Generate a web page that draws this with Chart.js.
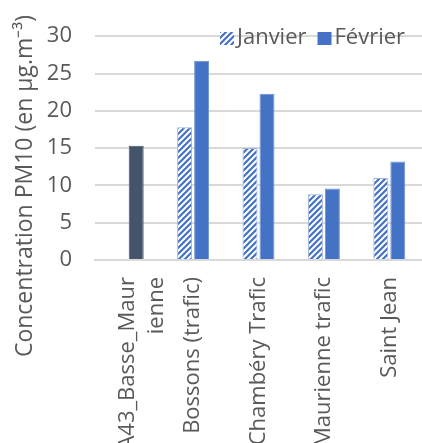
<!DOCTYPE html>
<html>
<head>
<meta charset="utf-8">
<script src="https://cdn.jsdelivr.net/npm/chart.js@4"></script>
<style>
  html, body { margin: 0; padding: 0; background: #fff; overflow: hidden; }
  #wrap { width: 422px; height: 443px; }
</style>
</head>
<body>
<div id="wrap"><canvas id="pmChart"></canvas></div>
<script>
const stations = [['A43_Basse_Maur', 'ienne'], 'Bossons (trafic)', 'Chambéry Trafic', 'Maurienne trafic', 'Saint Jean'];
const janvier = [null, 17.8, 15.0, 8.8, 11.0];
const fevrier = [15.3, 26.7, 22.3, 9.6, 13.2];
const yTicks = [0, 5, 10, 15, 20, 25, 30];
const seriesNames = ['Janvier', 'Février'];
const yTitle = 'Concentration PM10 (en µg.m⁻³)';

const blue = '#4472C4';
const slate = '#44546A';
const textGrey = '#595959';
const font = "'Open Sans', 'Liberation Sans', sans-serif";

function makeHatch() {
    const c = document.createElement('canvas');
    c.width = 6;
    c.height = 6;
    const g = c.getContext('2d');
    g.fillStyle = '#fff';
    g.fillRect(0, 0, 6, 6);
    g.strokeStyle = blue;
    g.lineWidth = 2.2;
    g.beginPath();
    g.moveTo(-1, 7); g.lineTo(7, -1);
    g.moveTo(-4, 4); g.lineTo(4, -4);
    g.moveTo(2, 10); g.lineTo(10, 2);
    g.stroke();
    return g.createPattern(c, 'repeat');
}
const hatch = makeHatch();

// y title and legend drawn by hand, the way the original sits
const extras = {
    id: 'extras',
    afterDraw(chart) {
        const ctx = chart.ctx;
        ctx.save();
        ctx.fillStyle = textGrey;
        ctx.textBaseline = 'middle';

        ctx.save();
        ctx.font = '23px ' + font;
        ctx.translate(25, 186);
        ctx.rotate(-Math.PI / 2);
        ctx.textAlign = 'center';
        ctx.fillText(yTitle, 0, 0);
        ctx.restore();

        // legend
        ctx.font = '22px ' + font;
        let x = 220;
        const y = 38;
        const fills = [hatch, blue];
        seriesNames.forEach((name, i) => {
            ctx.fillStyle = fills[i];
            ctx.fillRect(x, y - 6, 14, 13);
            ctx.fillStyle = textGrey;
            ctx.textAlign = 'left';
            ctx.fillText(name, x + 17, y);
            x += 17 + ctx.measureText(name).width + 11;
        });
        ctx.restore();
    }
};

new Chart(document.getElementById('pmChart'), {
    type: 'bar',
    data: {
        labels: stations,
        datasets: [
            {
                label: seriesNames[0],
                data: janvier,
                backgroundColor: hatch,
                borderColor: '#9db4e0',
                borderWidth: 1,
                categoryPercentage: 0.52,
                barPercentage: 0.88
            },
            {
                label: seriesNames[1],
                data: fevrier,
                backgroundColor: fevrier.map((v, i) => i === 0 ? slate : blue),
                borderColor: fevrier.map((v, i) => i === 0 ? slate : '#6f93d4'),
                borderWidth: 1,
                categoryPercentage: 0.52,
                barPercentage: 0.88
            }
        ]
    },
    plugins: [extras],
    options: {
        responsive: true,
        maintainAspectRatio: false,
        animation: false,
        layout: { padding: { top: 19, right: -2, left: 0, bottom: 0 } },
        plugins: {
            legend: { display: false },
            tooltip: { enabled: false }
        },
        scales: {
            x: {
                afterFit: (axis) => {
                    axis.height = 183;
                    axis.paddingLeft = 0;
                    axis.paddingRight = 0;
                },
                grid: { display: false, drawTicks: false },
                border: { color: '#d9d9d9', width: 2 },
                ticks: {
                    font: { family: font, size: 22, lineHeight: 1.3 },
                    color: textGrey,
                    minRotation: 90,
                    maxRotation: 90,
                    autoSkip: false,
                    padding: 17
                }
            },
            y: {
                min: 0,
                max: 30,
                afterFit: (axis) => { axis.width = 95; },
                afterBuildTicks: (axis) => { axis.ticks = yTicks.map(v => ({ value: v })); },
                grid: { color: '#d9d9d9', lineWidth: 2, drawTicks: false },
                border: { display: false },
                ticks: {
                    font: { family: font, size: 22 },
                    color: textGrey,
                    padding: 23
                }
            }
        }
    }
});
</script>
</body>
</html>
